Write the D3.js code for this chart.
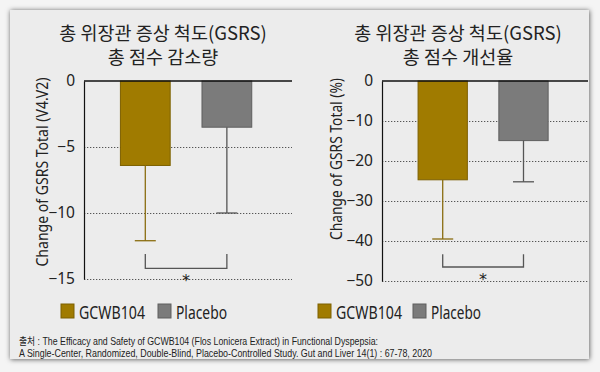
<!DOCTYPE html>
<html>
<head>
<meta charset="utf-8">
<script src="https://cdn.jsdelivr.net/npm/d3@7"></script>
<style>
    body { margin: 0; background: #f4f4f4; }
    text { font-family: "Noto Sans CJK KR", "Noto Sans", sans-serif; fill: #222; }
</style>
</head>
<body>
<div id="chart-area"></div>
<script>
// data
let groups = ["GCWB104", "Placebo"];
let groupColors = ["#a07b00", "#7b7b7b"];
let groupStroke = ["#7d6000", "#5f5f5f"];
let errColors = ["#8a6d10", "#555555"];

let reductionMeans = [-6.4, -3.5];
let reductionSD = [5.7, 6.5];
let reductionTicks = [0, -5, -10, -15];
let reductionBracket = [-13.1, -14.2];

let percentMeans = [-24.7, -14.9];
let percentSD = [14.8, 10.3];
let percentTicks = [0, -10, -20, -30, -40, -50];
let percentBracket = [-43.3, -46.5];

let titleLeft = ["총 위장관 증상 척도(GSRS)", "총 점수 감소량"];
let titleRight = ["총 위장관 증상 척도(GSRS)", "총 점수 개선율"];
let yLabelLeft = "Change of GSRS Total (V4.V2)";
let yLabelRight = "Change of GSRS Total (%)";
let sourceLines = [
    "출처 : The Efficacy and Safety of GCWB104 (Flos Lonicera Extract) in Functional Dyspepsia:",
    "A Single-Center, Randomized, Double-Blind, Placebo-Controlled Study. Gut and Liver 14(1) : 67-78, 2020"
];

let svg = d3.select("#chart-area").append("svg")
    .attr("width", 600)
    .attr("height", 372);

let defs = svg.append("defs");
let shadow = defs.append("filter").attr("id", "shadow")
    .attr("x", "-5%").attr("y", "-5%").attr("width", "110%").attr("height", "110%");
shadow.append("feDropShadow")
    .attr("dx", 0.5).attr("dy", 0.5)
    .attr("stdDeviation", 2.5)
    .attr("flood-color", "#000")
    .attr("flood-opacity", 0.65);

// panel
svg.append("rect")
    .attr("x", 10).attr("y", 10)
    .attr("width", 579).attr("height", 349)
    .attr("fill", "#ececec")
    .attr("filter", "url(#shadow)");

class BarPanel {
    constructor(cfg) {
        this.cfg = cfg;
        this.initVis();
    }

    initVis() {
        let vis = this;
        let c = vis.cfg;

        vis.g = svg.append("g");

        vis.x = d3.scaleBand()
            .domain(groups)
            .range([c.left, c.right])
            .paddingInner(0.39)
            .paddingOuter(0.47)
            .align(0.475);

        vis.y = d3.scaleLinear()
            .domain([0, c.ticks[c.ticks.length - 1]])
            .range([c.top, c.bottom]);

        vis.updateVis();
    }

    updateVis() {
        let vis = this;
        let c = vis.cfg;
        let x = vis.x, y = vis.y;

        // title, one text per line
        vis.g.selectAll(".title")
            .data(c.title)
            .enter().append("text")
            .attr("class", "title")
            .attr("text-anchor", "middle")
            .attr("font-size", 18.5)
            .attr("x", c.titleX)
            .attr("y", (d, i) => 40 + i * 24)
            .text(d => d);

        // dotted grid
        vis.g.append("g")
            .attr("class", "grid")
            .attr("transform", `translate(${c.left}, 0)`)
            .call(d3.axisLeft(y).tickValues(c.ticks.filter(d => d !== 0)).tickSize(-(c.right - c.left)).tickFormat(""))
            .call(g => g.select(".domain").remove())
            .selectAll("line")
            .attr("stroke", "#555")
            .attr("stroke-dasharray", "1.3,1.7");

        // bars
        vis.g.selectAll(".bar")
            .data(c.means)
            .enter().append("rect")
            .attr("class", "bar")
            .attr("x", (d, i) => x(groups[i]))
            .attr("y", y(0))
            .attr("width", x.bandwidth())
            .attr("height", d => y(d) - y(0))
            .attr("fill", (d, i) => groupColors[i])
            .attr("stroke", (d, i) => groupStroke[i])
            .attr("stroke-width", 1);

        // error bars
        let capW = 10.5;
        let err = vis.g.selectAll(".err")
            .data(c.means)
            .enter().append("g")
            .attr("class", "err")
            .attr("stroke", (d, i) => errColors[i])
            .attr("stroke-width", 1.3);
        err.append("line")
            .attr("x1", (d, i) => x(groups[i]) + x.bandwidth() / 2)
            .attr("x2", (d, i) => x(groups[i]) + x.bandwidth() / 2)
            .attr("y1", d => y(d))
            .attr("y2", (d, i) => y(d - c.sd[i]));
        err.append("line")
            .attr("x1", (d, i) => x(groups[i]) + x.bandwidth() / 2 - capW)
            .attr("x2", (d, i) => x(groups[i]) + x.bandwidth() / 2 + capW)
            .attr("y1", (d, i) => y(d - c.sd[i]))
            .attr("y2", (d, i) => y(d - c.sd[i]));

        // axis
        let yAxis = vis.g.append("g")
            .attr("transform", `translate(${c.left}, 0)`)
            .call(d3.axisLeft(y).tickValues(c.ticks).tickSize(0).tickPadding(9).tickFormat(d3.format("d")));
        yAxis.select(".domain").attr("stroke", "#111").attr("stroke-width", 1.2);
        yAxis.selectAll("text")
            .attr("font-size", 15.5)
            .attr("fill", "#222")
            .style("font-family", "'Noto Sans', sans-serif");

        // zero line
        vis.g.append("line")
            .attr("x1", c.left).attr("x2", c.right)
            .attr("y1", y(0)).attr("y2", y(0))
            .attr("stroke", "#111")
            .attr("stroke-width", 1.4);

        // y label
        vis.g.append("text")
            .attr("transform", `translate(${c.yLabelX}, ${c.yLabelY}) rotate(-90)`)
            .attr("text-anchor", "middle")
            .attr("dy", "0.35em")
            .attr("font-size", 15.5)
            .attr("textLength", c.yLabelLen)
            .attr("lengthAdjust", "spacingAndGlyphs")
            .style("font-family", "'Noto Sans', sans-serif")
            .text(c.yLabel);

        // significance bracket
        let bx1 = x(groups[0]) + x.bandwidth() / 2;
        let bx2 = x(groups[1]) + x.bandwidth() / 2;
        let bracket = d3.path();
        bracket.moveTo(bx1, y(c.bracket[0]));
        bracket.lineTo(bx1, y(c.bracket[1]));
        bracket.lineTo(bx2, y(c.bracket[1]));
        bracket.lineTo(bx2, y(c.bracket[0]));
        vis.g.append("path")
            .attr("d", bracket.toString())
            .attr("fill", "none")
            .attr("stroke", "#555")
            .attr("stroke-width", 1.3);
        vis.g.append("text")
            .attr("x", (bx1 + bx2) / 2)
            .attr("y", y(c.bracket[1]) + 18)
            .attr("text-anchor", "middle")
            .attr("font-size", 16)
            .attr("fill", "#444")
            .style("font-family", "'DejaVu Sans', sans-serif")
            .text("*");

        // legend
        let leg = vis.g.selectAll(".legend")
            .data(groups)
            .enter().append("g")
            .attr("class", "legend")
            .attr("transform", (d, i) => `translate(${c.legendX[i]}, 304)`);
        leg.append("rect")
            .attr("width", 13).attr("height", 14)
            .attr("fill", (d, i) => groupColors[i])
            .attr("stroke", (d, i) => groupStroke[i]);
        leg.append("text")
            .attr("x", 18)
            .attr("y", 14.5)
            .attr("font-size", 18)
            .attr("textLength", (d, i) => c.legendLen[i])
            .attr("lengthAdjust", "spacingAndGlyphs")
            .style("font-family", "'Noto Sans', sans-serif")
            .text(d => d);
    }
}

let leftChart = new BarPanel({
    left: 84, right: 292, top: 81, bottom: 279,
    means: reductionMeans, sd: reductionSD, ticks: reductionTicks, bracket: reductionBracket,
    title: titleLeft, titleX: 163,
    yLabel: yLabelLeft, yLabelX: 43, yLabelY: 172, yLabelLen: 189,
    legendX: [61, 158], legendLen: [66, 51]
});

let rightChart = new BarPanel({
    left: 382, right: 588, top: 81, bottom: 281,
    means: percentMeans, sd: percentSD, ticks: percentTicks, bracket: percentBracket,
    title: titleRight, titleX: 458,
    yLabel: yLabelRight, yLabelX: 337, yLabelY: 159, yLabelLen: 162,
    legendX: [318, 413], legendLen: [66, 50]
});

// source note
svg.append("g").selectAll("text")
    .data(sourceLines)
    .enter().append("text")
    .attr("x", 19)
    .attr("y", (d, i) => 344.5 + i * 12)
    .attr("font-size", 10.5)
    .attr("fill", "#444")
    .attr("textLength", (d, i) => [359, 413][i])
    .attr("lengthAdjust", "spacingAndGlyphs")
    .style("font-family", "'Liberation Sans', 'Noto Sans CJK KR', sans-serif")
    .text(d => d);
</script>
</body>
</html>
